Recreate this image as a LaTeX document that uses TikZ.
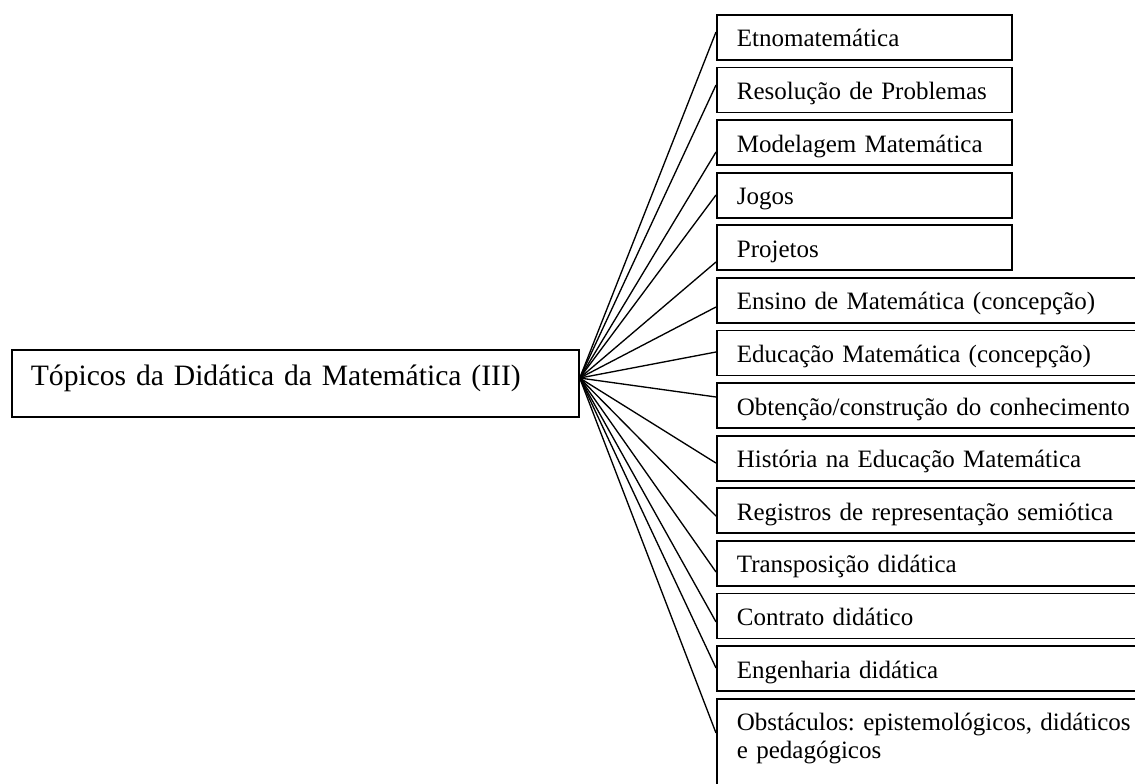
\documentclass[tikz,border=0pt]{standalone}
\usepackage{fontspec}
\setmainfont{Liberation Serif}
\frenchspacing
\usetikzlibrary{positioning,calc}

\begin{document}
\begin{tikzpicture}[x=0.75pt, y=-0.75pt, -, line width=1pt,
	main box/.style={draw, line width=1.3pt, anchor=north west, inner xsep=14.25pt, inner ysep=0pt, text width=396.75pt, align=left, text height=27pt, text depth=23.25pt, font=\fontsize{22.2pt}{27pt}\selectfont},
	topic/.style={draw, line width=1.3pt, anchor=north west, inner xsep=15pt, inner ysep=0pt, text width=191.25pt, align=left, text height=24pt, text depth=9.75pt, font=\fontsize{18.75pt}{21pt}\selectfont},
	wide topic/.style={topic, text width=322.5pt},
	stacked/.style={below=4.4pt of #1.south west, anchor=north west}]
	\useasboundingbox (0,0) rectangle (1135,784);
	\clip (0,0) rectangle (1135,784);

	\node [main box] (main) at (11,349) {Tópicos da Didática da Matemática (III)};
	\coordinate (hub) at ([yshift=4pt]main.east);

	\node [topic] (etno) at (716,14) {Etnomatemática};
	\node [topic, stacked=etno] (resol) {Resolução de Problemas};
	\node [topic, stacked=resol] (model) {Modelagem Matemática};
	\node [topic, stacked=model] (jogos) {Jogos};
	\node [topic, stacked=jogos] (proj) {Projetos};
	\node [wide topic, stacked=proj] (ensino) {Ensino de Matemática (concepção)};
	\node [wide topic, stacked=ensino] (educ) {Educação Matemática (concepção)};
	\node [wide topic, stacked=educ] (obten) {Obtenção/construção do conhecimento};
	\node [wide topic, stacked=obten] (hist) {História na Educação Matemática};
	\node [wide topic, stacked=hist] (regis) {Registros de representação semiótica};
	\node [wide topic, stacked=regis] (transp) {Transposição didática};
	\node [wide topic, stacked=transp] (contr) {Contrato didático};
	\node [wide topic, stacked=contr] (engen) {Engenharia didática};
	\node [wide topic, stacked=engen, text depth=90pt] (obst) {Obstáculos: epistemológicos, didáticos\\e pedagógicos};

	\path (hub) edge ([yshift=-13.5pt]etno.north west);
	\path (hub) edge ([yshift=-13.8pt]resol.north west);
	\path (hub) edge ([yshift=-24.6pt]model.north west);
	\path (hub) edge ([yshift=-17.4pt]jogos.north west);
	\path (hub) edge ([yshift=-28.2pt]proj.north west);
	\path (hub) edge ([yshift=-22.5pt]ensino.north west);
	\path (hub) edge ([yshift=-16.8pt]educ.north west);
	\path (hub) edge ([yshift=-11.1pt]obten.north west);
	\path (hub) edge ([yshift=-21.2pt]hist.north west);
	\path (hub) edge ([yshift=-21.5pt]regis.north west);
	\path (hub) edge ([yshift=-24pt]transp.north west);
	\path (hub) edge ([yshift=-22pt]contr.north west);
	\path (hub) edge ([yshift=-17.1pt]engen.north west);
	\path (hub) edge ([yshift=-26.4pt]obst.north west);
\end{tikzpicture}
\end{document}
